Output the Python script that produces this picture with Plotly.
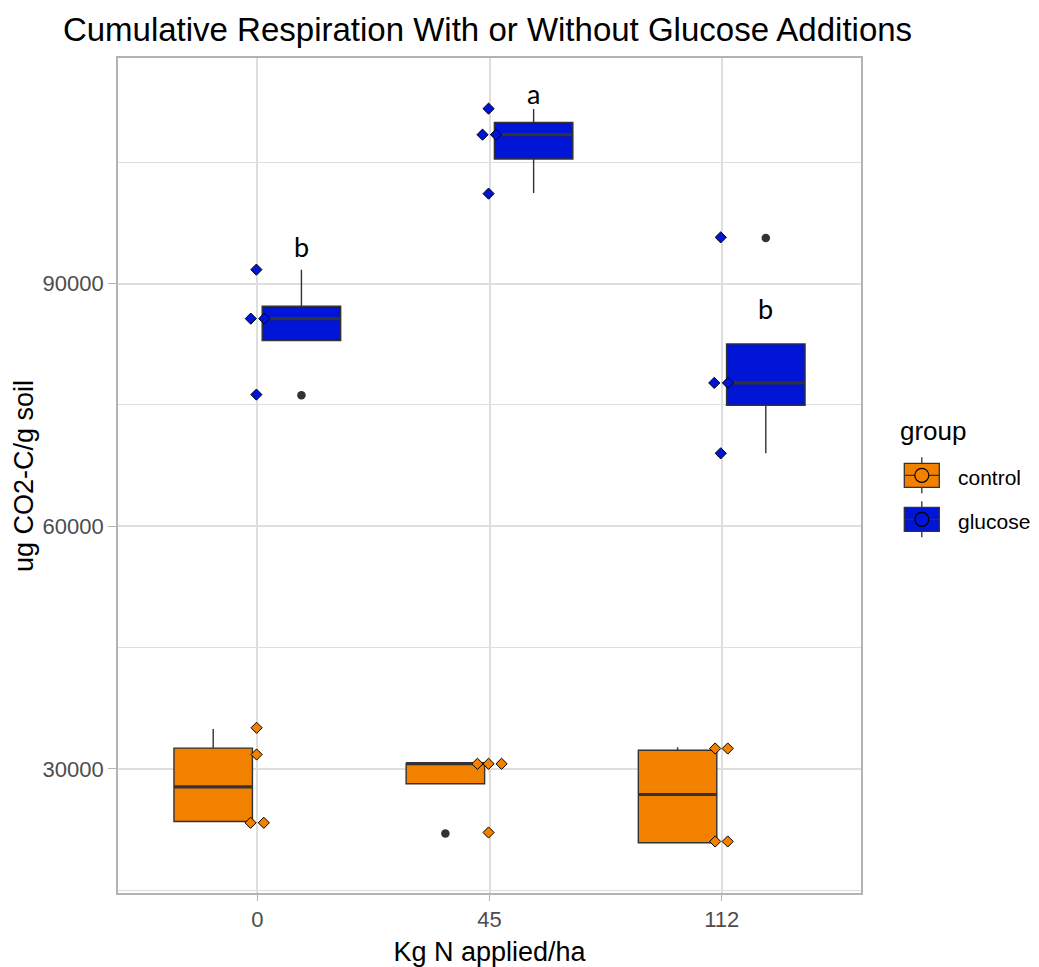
import plotly.graph_objects as go

# ---- data -------------------------------------------------------------
categories = ["0", "45", "112"]
groups = ["control", "glucose"]
group_colors = ["#F28100", "#0015D5"]

# box summaries (ug CO2-C/g soil) for each N rate
control_q1 = [23492, 28153, 20859]
control_median = [27783, 30662, 26830]
control_q3 = [32566, 30662, 32307]
control_lower = [23492, 28153, 20859]
control_upper = [34914, 30662, 32678]
control_outlier_cat = [1]
control_outlier_val = [22009]

glucose_q1 = [82953, 105415, 74956]
glucose_median = [85673, 108419, 77724]
glucose_q3 = [87194, 109940, 82546]
glucose_lower = [82953, 101212, 69021]
glucose_upper = [91731, 111597, 82546]
glucose_outlier_cat = [0, 2]
glucose_outlier_val = [76192, 95650]

# individual replicates
control_pts_cat = [0, 0, 0, 0, 1, 1, 1, 1, 2, 2, 2, 2]
control_pts_val = [35075, 31775, 23332, 23332, 30625, 30625, 30625, 22133,
                   32517, 32517, 21021, 21021]
control_pts_jitter = [-0.003, -0.003, -0.029, 0.028, -0.052, -0.004, 0.052, -0.004,
                      -0.028, 0.026, -0.028, 0.026]

glucose_pts_cat = [0, 0, 0, 0, 1, 1, 1, 1, 2, 2, 2, 2]
glucose_pts_val = [91731, 85673, 85673, 76278, 111634, 108419, 108419, 101126,
                   95724, 77724, 77724, 69021]
glucose_pts_jitter = [-0.004, -0.028, 0.030, -0.004, -0.004, -0.030, 0.028, -0.004,
                      -0.004, -0.032, 0.027, -0.004]

# significance letters for the glucose boxes
letter_cat = [0, 1, 2]
letter_text = ["b", "a", "b"]
letter_val = [94574, 113488, 86910]

# ---- styling ------------------------------------------------------------
DODGE = 0.19
BOX_W = 0.338
EDGE = "#333333"
GRID = "#DEDEDE"
BORDER = "#B3B3B3"

W, H = 1039, 967
L, R, T, B = 118, 178, 58, 74

stats = {
    "control": (control_q1, control_median, control_q3, control_lower, control_upper,
                control_outlier_cat, control_outlier_val,
                control_pts_cat, control_pts_val, control_pts_jitter, -DODGE),
    "glucose": (glucose_q1, glucose_median, glucose_q3, glucose_lower, glucose_upper,
                glucose_outlier_cat, glucose_outlier_val,
                glucose_pts_cat, glucose_pts_val, glucose_pts_jitter, DODGE),
}

fig = go.Figure()

# boxes
for g, col in zip(groups, group_colors):
    q1, med, q3, lo, hi, _, _, _, _, _, off = stats[g]
    xs = [i + off for i in range(len(categories))]
    fig.add_trace(go.Box(
        x=xs, q1=q1, median=med, q3=q3, lowerfence=lo, upperfence=hi,
        width=BOX_W, fillcolor=col, line=dict(color=EDGE, width=1.4),
        whiskerwidth=0, boxpoints=False, name=g, showlegend=False,
    ))
    # thicker median bar
    mx, my = [], []
    for x, m in zip(xs, med):
        mx += [x - BOX_W / 2, x + BOX_W / 2, None]
        my += [m, m, None]
    fig.add_trace(go.Scatter(x=mx, y=my, mode="lines",
                             line=dict(color=EDGE, width=3.2),
                             showlegend=False, hoverinfo="skip"))

# outliers
for g in groups:
    _, _, _, _, _, oc, ov, _, _, _, off = stats[g]
    fig.add_trace(go.Scatter(
        x=[c + off for c in oc], y=ov, mode="markers",
        marker=dict(color=EDGE, size=8.5, symbol="circle"),
        showlegend=False, hoverinfo="skip"))

# replicate points
for g, col in zip(groups, group_colors):
    _, _, _, _, _, _, _, pc, pv, pj, _ = stats[g]
    fig.add_trace(go.Scatter(
        x=[c + j for c, j in zip(pc, pj)], y=pv, mode="markers",
        marker=dict(symbol="diamond", size=8.6, color=col,
                    line=dict(color="black", width=1)),
        showlegend=False, name=g))

# letters
for c, t, v in zip(letter_cat, letter_text, letter_val):
    fig.add_annotation(x=c + DODGE, y=v, text=t, showarrow=False,
                       font=dict(family="Lato", size=27, color="black"),
                       xanchor="center", yanchor="middle")

# ---- hand-built legend ----------------------------------------------------
pw, ph = W - L - R, H - T - B


def px(xp):
    return (xp - L) / pw


def py(yp):
    return (H - B - yp) / ph


fig.add_annotation(x=px(898), y=py(431), xref="paper", yref="paper",
                   text="group", showarrow=False, xanchor="left", yanchor="middle",
                   font=dict(family="Liberation Sans", size=26, color="black"))
key_top = [463.3, 507.3]
for g, col, kt in zip(groups, group_colors, key_top):
    x0, x1 = 904.3, 939.3
    y0, y1 = kt, kt + 24
    xc, yc = (x0 + x1) / 2, (y0 + y1) / 2
    ln = dict(color=EDGE, width=1.3)
    fig.add_shape(type="line", xref="paper", yref="paper",
                  x0=px(xc), x1=px(xc), y0=py(y0 - 6), y1=py(y1 + 6), line=ln)
    fig.add_shape(type="rect", xref="paper", yref="paper",
                  x0=px(x0), x1=px(x1), y0=py(y1), y1=py(y0),
                  fillcolor=col, line=ln)
    fig.add_shape(type="line", xref="paper", yref="paper",
                  x0=px(x0), x1=px(x1), y0=py(yc), y1=py(yc), line=ln)
    r = 7
    fig.add_shape(type="circle", xref="paper", yref="paper",
                  x0=px(xc - r), x1=px(xc + r), y0=py(yc + r), y1=py(yc - r),
                  fillcolor=col, line=dict(color="black", width=1.2))
    fig.add_annotation(x=px(956), y=py(yc + 2), xref="paper", yref="paper",
                       text=g, showarrow=False, xanchor="left", yanchor="middle",
                       font=dict(family="Liberation Sans", size=21, color="black"))

# y-axis title, placed just left of the tick labels
fig.add_annotation(x=px(24), y=py(476), xref="paper", yref="paper",
                   text="ug CO2-C/g soil", textangle=-90, showarrow=False,
                   xanchor="center", yanchor="middle",
                   font=dict(family="Liberation Sans", size=27, color="black"))

# ---- layout --------------------------------------------------------------
fig.update_layout(
    width=W, height=H,
    margin=dict(l=L, r=R, t=T, b=B, autoexpand=False),
    paper_bgcolor="white", plot_bgcolor="white",
    boxmode="overlay",
    showlegend=False,
    title=dict(text="Cumulative Respiration With or Without Glucose Additions",
               x=(L + pw / 2 - 2) / W, xanchor="center", y=1 - 29 / H, yanchor="middle",
               font=dict(family="Liberation Sans", size=33, color="black")),
    font=dict(family="Liberation Sans"),
)
fig.update_xaxes(
    range=[-0.6, 2.6], tickvals=list(range(len(categories))), ticktext=categories,
    automargin=False,
    showgrid=True, gridcolor=GRID, gridwidth=1.6, zeroline=False,
    showline=True, mirror=True, linecolor=BORDER, linewidth=1.6,
    ticks="outside", ticklen=6, tickcolor=BORDER, tickwidth=1.4,
    tickfont=dict(size=22, color="#4D4D4D"),
    title=dict(text="Kg N applied/ha", standoff=14,
               font=dict(size=27, color="black")),
)
fig.update_yaxes(
    range=[14650, 117900], tick0=0, dtick=30000, tickformat="d",
    automargin=False,
    showgrid=True, gridcolor=GRID, gridwidth=1.6, zeroline=False,
    minor=dict(dtick=15000, tick0=0, showgrid=True, gridcolor=GRID, gridwidth=1.1),
    showline=True, mirror=True, linecolor=BORDER, linewidth=1.6,
    ticks="outside", ticklen=8, tickcolor=BORDER, tickwidth=1.4,
    tickfont=dict(size=22, color="#4D4D4D"),
)

fig.write_html("out.html")
